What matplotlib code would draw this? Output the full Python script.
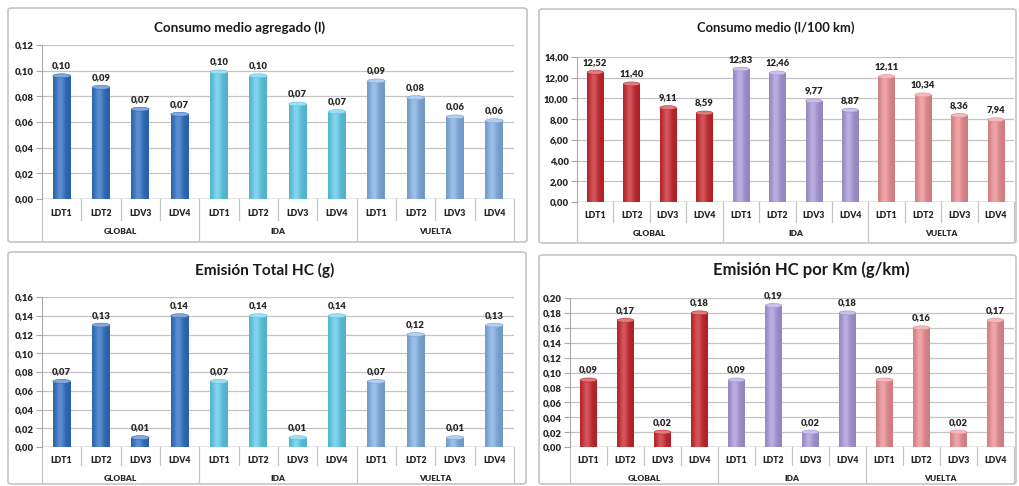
import numpy as np
import matplotlib
matplotlib.use("Agg")
import matplotlib.pyplot as plt
from matplotlib.patches import FancyBboxPatch, Ellipse
from matplotlib.colors import to_rgb

plt.rcParams['font.family'] = ['Lato', 'DejaVu Sans']

# --- data -------------------------------------------------------------
vehicles = ["LDT1", "LDT2", "LDV3", "LDV4"]
groups = ["GLOBAL", "IDA", "VUELTA"]

consumo_agregado_global = [0.096, 0.087, 0.070, 0.066]
consumo_agregado_ida = [0.099, 0.096, 0.074, 0.068]
consumo_agregado_vuelta = [0.092, 0.079, 0.064, 0.061]

consumo_100km_global = [12.52, 11.40, 9.11, 8.59]
consumo_100km_ida = [12.83, 12.46, 9.77, 8.87]
consumo_100km_vuelta = [12.11, 10.34, 8.36, 7.94]

hc_total_global = [0.07, 0.13, 0.01, 0.14]
hc_total_ida = [0.07, 0.14, 0.01, 0.14]
hc_total_vuelta = [0.07, 0.12, 0.01, 0.13]

hc_km_global = [0.09, 0.17, 0.02, 0.18]
hc_km_ida = [0.09, 0.19, 0.02, 0.18]
hc_km_vuelta = [0.09, 0.16, 0.02, 0.17]

blues = ["#2E6FC2", "#5DCAE8", "#80AEE2"]
reds = ["#C8262C", "#A898DA", "#EC8E92"]

W, H = 1019, 486
fig = plt.figure(figsize=(W / 100, H / 100), dpi=100)
fig.patch.set_facecolor("white")

TXT = "#262626"
GRID = "#c4c4c4"
AXC = "#a8a8a8"
SMALL_W = "heavy"


def fmt(v, nd):
    return f"{v:.{nd}f}".replace(".", ",")


def shade(c, f):
    r = np.array(to_rgb(c))
    if f >= 0:
        return tuple(r + (1 - r) * f)
    return tuple(r * (1 + f))


def panel_box(x0, y0, x1, y1):
    p = FancyBboxPatch((x0 / W, 1 - y1 / H), (x1 - x0) / W, (y1 - y0) / H,
                       boxstyle="round,pad=0,rounding_size=0.004",
                       transform=fig.transFigure, facecolor="none",
                       edgecolor="#c8c4c4", linewidth=1.2, zorder=0)
    fig.patches.append(p)


def draw_panel(box, area, offs, title, tsize, tx, ty, series, colors, ymax, step, nd_tick, nd_val):
    panel_box(*box)
    x0, ytop, x1, ybot = area
    cat_off, grp_off, short_len, long_len = offs
    ax = fig.add_axes([x0 / W, 1 - ybot / H, (x1 - x0) / W, (ybot - ytop) / H])
    ax.set_facecolor("none")
    n = len(vehicles)
    xs = np.arange(n * len(groups))
    vals = [v for s in series for v in s]
    cols = [colors[g] for g in range(len(groups)) for _ in range(n)]
    bw = 0.45
    bars = ax.bar(xs, vals, width=bw, color=cols, zorder=3, linewidth=0)
    ax.set_xlim(-0.5, len(xs) - 0.5)
    ax.set_ylim(0, ymax)
    ax_h_px = ybot - ytop
    cap = ymax / ax_h_px * 4.0
    grad = np.linspace(-1, 1, 64)
    for b, c, v in zip(bars, cols, vals):
        # cylinder shading across the bar width
        prof = np.exp(-((grad + 0.2) ** 2) / 0.25)
        base = np.array(shade(c, -0.12))
        hi = np.array(shade(c, 0.22))
        img = base[None, :] + (hi - base)[None, :] * prof[:, None]
        img = img[None, :, :]
        bx = b.get_x()
        im = ax.imshow(img, extent=(bx, bx + bw, 0, v), aspect="auto",
                       zorder=3.5, interpolation="bilinear")
        im.set_clip_path(b)
        ax.add_patch(Ellipse((bx + bw / 2, v), bw, cap, facecolor=shade(c, 0.4),
                             edgecolor=shade(c, -0.05), linewidth=0.4, zorder=4))
        ax.annotate(fmt(v, nd_val), (bx + bw / 2, v), xytext=(0, 4),
                    textcoords="offset points", ha="center", va="bottom",
                    fontsize=6.8, fontweight=SMALL_W, color=TXT, zorder=5)
    ticks = np.arange(0, ymax + step / 2, step)
    ax.set_yticks(ticks)
    ax.set_yticklabels([fmt(t, nd_tick) for t in ticks], fontsize=6.8,
                       fontweight=SMALL_W, color=TXT)
    ax.tick_params(axis="y", length=4, color=AXC, pad=2)
    ax.set_xticks([])
    ax.grid(axis="y", color=GRID, linewidth=0.9, zorder=1)
    for s in ["top", "right", "bottom"]:
        ax.spines[s].set_visible(False)
    ax.spines["left"].set_color(AXC)
    ax.axhline(0, color=AXC, linewidth=1.0, zorder=2)
    trans = ax.get_xaxis_transform()
    px = 1.0 / ax_h_px
    # two-level category axis: vehicle labels, then route groups
    for i, x in enumerate(xs):
        ax.text(x, -cat_off * px, vehicles[i % n], transform=trans, ha="center",
                va="center", fontsize=6.2, fontweight=SMALL_W, color=TXT)
    for k in range(len(xs) + 1):
        xb = k - 0.5
        length = long_len if k % n == 0 else short_len
        ax.plot([xb, xb], [0, -length * px], transform=trans,
                color=GRID, linewidth=0.9, clip_on=False)
    for g, name in enumerate(groups):
        ax.text(g * n + (n - 1) / 2, -grp_off * px, name, transform=trans, ha="center",
                va="center", fontsize=6.0, fontweight=SMALL_W, color=TXT)
    fig.text(tx / W, 1 - ty / H, title, ha="center", va="center", fontsize=tsize,
             fontweight="bold", color="#1a1a1a")


draw_panel((8, 8, 527, 242), (42, 45, 514, 199), (14, 33, 21, 41),
           "Consumo medio agregado (l)", 9.7, 240, 28,
           [consumo_agregado_global, consumo_agregado_ida, consumo_agregado_vuelta],
           blues, 0.12, 0.02, 2, 2)
draw_panel((539, 9, 1016, 243), (577, 57, 1014, 202), (13, 32, 20, 39),
           "Consumo medio (l/100 km)", 9.4, 776, 28,
           [consumo_100km_global, consumo_100km_ida, consumo_100km_vuelta],
           reds, 14, 2, 2, 2)
draw_panel((8, 252, 526, 484), (42, 297, 514, 447), (13, 31, 18, 36),
           "Emisión Total HC (g)", 11.1, 265, 270,
           [hc_total_global, hc_total_ida, hc_total_vuelta],
           blues, 0.16, 0.02, 2, 2)
draw_panel((539, 255, 1016, 484), (570, 298, 1014, 447), (13, 31, 18, 36),
           "Emisión HC por Km (g/km)", 12.0, 811, 270,
           [hc_km_global, hc_km_ida, hc_km_vuelta],
           reds, 0.20, 0.02, 2, 2)

fig.savefig("out.png", dpi=100, facecolor="white")
